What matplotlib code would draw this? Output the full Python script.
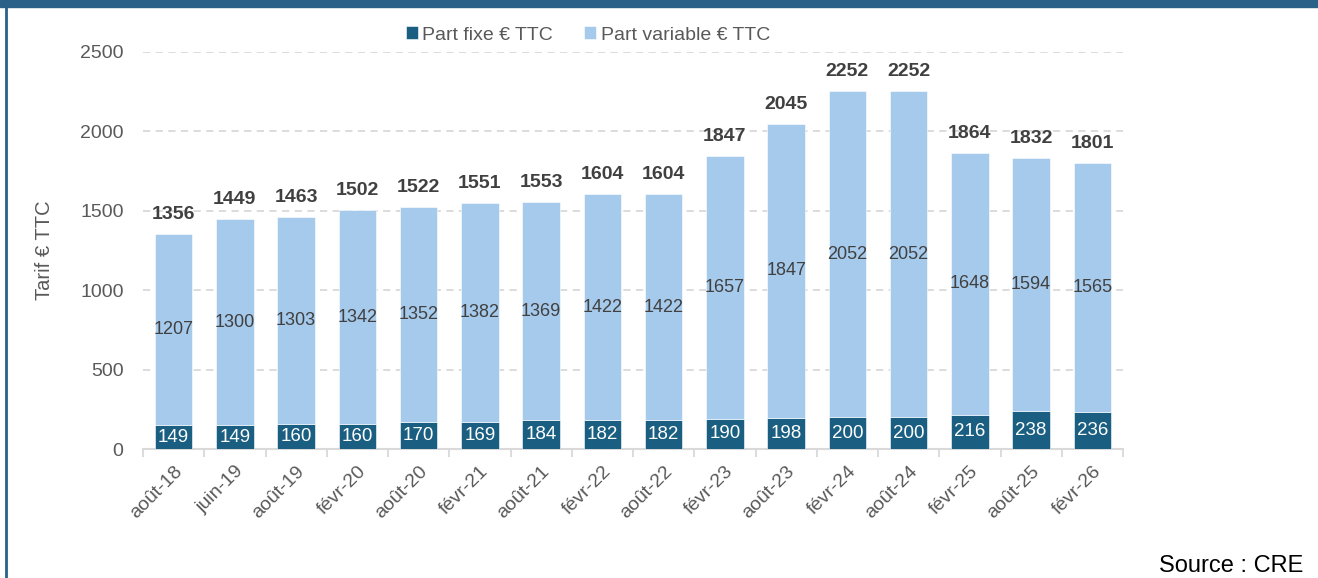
import matplotlib
matplotlib.use("Agg")
import matplotlib.pyplot as plt
from matplotlib.patches import Rectangle
from matplotlib.lines import Line2D
import numpy as np

plt.rcParams['font.family'] = ['Liberation Sans', 'DejaVu Sans']

categories = ["août-18", "juin-19", "août-19", "févr-20", "août-20", "févr-21", "août-21",
              "févr-22", "août-22", "févr-23", "août-23", "févr-24", "août-24", "févr-25",
              "août-25", "févr-26"]
part_fixe = [149, 149, 160, 160, 170, 169, 184, 182, 182, 190, 198, 200, 200, 216, 238, 236]
part_variable = [1207, 1300, 1303, 1342, 1352, 1382, 1369, 1422, 1422, 1657, 1847, 2052,
                 2052, 1648, 1594, 1565]
totals = [1356, 1449, 1463, 1502, 1522, 1551, 1553, 1604, 1604, 1847, 2045, 2252, 2252,
          1864, 1832, 1801]
y_ticks = [0, 500, 1000, 1500, 2000, 2500]

c_fixe = "#1a5f82"
c_var = "#a6caec"
c_text = "#404040"
c_tick = "#595959"
c_grid = "#d9d9d9"

W, H = 1318, 578
fig = plt.figure(figsize=(W / 100, H / 100), dpi=100)
ax = fig.add_axes([143 / W, 1 - 449 / H, (1123 - 143) / W, (449 - 52) / H])

x = np.arange(len(categories))
bw = 0.61
b1 = ax.bar(x, part_fixe, bw, color=c_fixe, edgecolor="white", linewidth=0.4,
            label="Part fixe € TTC", zorder=3)
b2 = ax.bar(x, part_variable, bw, bottom=part_fixe, color=c_var, edgecolor="white",
            linewidth=0.4, label="Part variable € TTC", zorder=3)

for i in range(len(categories)):
    ax.text(x[i], part_fixe[i] / 2, str(part_fixe[i]), ha="center", va="center",
            color="white", fontsize=13.5, zorder=4)
    ax.text(x[i], part_fixe[i] + part_variable[i] / 2, str(part_variable[i]), ha="center",
            va="center", color=c_text, fontsize=13, zorder=4)
    ax.annotate(str(totals[i]), (x[i], totals[i]), xytext=(0, 8), textcoords="offset points",
                ha="center", va="bottom", color=c_text, fontsize=14, fontweight="bold",
                zorder=4)

ax.set_xlim(-0.5, len(categories) - 0.5)
ax.set_ylim(0, 2500)
ax.set_yticks(y_ticks)
ax.set_yticklabels([str(v) for v in y_ticks])
ax.tick_params(axis="y", length=0, pad=14, labelsize=14, labelcolor=c_tick)
ax.yaxis.grid(True, color=c_grid, linestyle=(0, (4, 3)), linewidth=1.3, zorder=0)
ax.set_axisbelow(True)

ax.set_xticks(x)
ax.set_xticklabels(categories, rotation=45, ha="right", rotation_mode="anchor")
ax.tick_params(axis="x", which="major", length=0, pad=10, labelsize=14, labelcolor=c_tick)
ax.set_xticks(np.arange(-0.5, len(categories)), minor=True)
ax.tick_params(axis="x", which="minor", length=6, width=1.3, color=c_grid, direction="out")

for s in ["top", "right", "left"]:
    ax.spines[s].set_visible(False)
ax.spines["bottom"].set_color(c_grid)
ax.spines["bottom"].set_linewidth(1.5)

ax.set_ylabel("Tarif € TTC", fontsize=14.5, color=c_tick)
ax.yaxis.set_label_coords((54 - 143) / (1123 - 143), 0.5)

fig.legend(handles=[b1, b2], loc="center", bbox_to_anchor=(588 / W, 1 - 35 / H), ncol=2,
           frameon=False, fontsize=14, labelcolor=c_tick, handlelength=0.6,
           handleheight=0.6, handletextpad=0.25, columnspacing=1.6)

fig.text(1303 / W, 1 - 566 / H, "Source : CRE", ha="right", va="center", fontsize=17,
         color="black")

# frame decorations
fig.patches.append(Rectangle((0, 1 - 7 / H), 1, 7 / H, transform=fig.transFigure,
                             color="#2a6188", zorder=10))
fig.lines.append(Line2D([5.5 / W, 5.5 / W], [0, 1], transform=fig.transFigure,
                        color="#2a6188", linewidth=2, zorder=10))

fig.savefig("out.png", dpi=100)
